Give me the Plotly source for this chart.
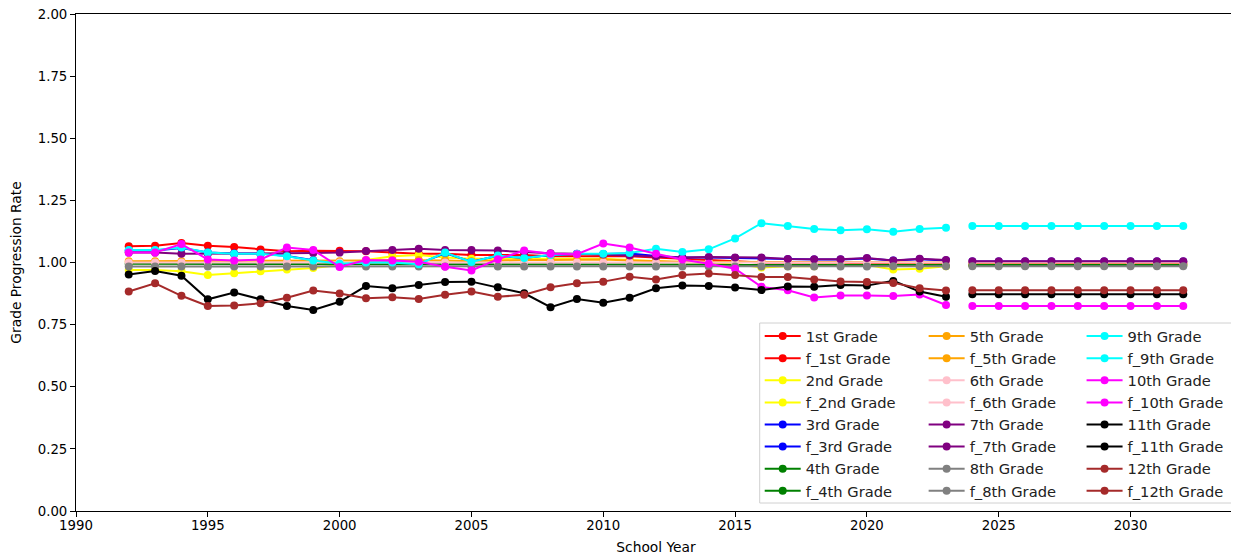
import plotly.graph_objects as go

years = list(range(1992, 2024))
f_years = list(range(2024, 2033))

grades = ["1st Grade", "2nd Grade", "3rd Grade", "4th Grade", "5th Grade", "6th Grade",
          "7th Grade", "8th Grade", "9th Grade", "10th Grade", "11th Grade", "12th Grade"]
colors = ["red", "yellow", "blue", "green", "orange", "pink",
          "purple", "gray", "cyan", "magenta", "black", "brown"]

g1 = [1.065, 1.067, 1.078, 1.067, 1.062, 1.052, 1.045, 1.047, 1.047, 1.045, 1.040, 1.035,
      1.035, 1.030, 1.030, 1.030, 1.025, 1.025, 1.025, 1.025, 1.020, 1.015, 1.010, 1.005,
      1.000, 1.000, 1.000, 1.000, 0.995, 0.995, 0.995, 0.995]
g2 = [0.970, 0.970, 0.965, 0.950, 0.957, 0.965, 0.972, 0.978, 0.990, 1.010, 1.025, 1.030,
      1.020, 1.015, 1.015, 1.015, 1.015, 1.015, 1.015, 1.010, 1.005, 1.000, 1.000, 0.995,
      0.980, 0.985, 0.985, 0.990, 0.990, 0.972, 0.975, 0.985]
g3 = [1.048, 1.048, 1.058, 1.040, 1.036, 1.036, 1.026, 1.009, 0.996, 1.001, 1.001, 0.994,
      1.038, 1.003, 1.027, 1.018, 1.030, 1.034, 1.034, 1.036, 1.026, 1.020, 1.020, 1.018,
      1.018, 1.013, 1.012, 1.012, 1.016, 1.008, 1.013, 1.008]
g4 = [0.995, 0.995, 0.995, 0.995, 0.995, 0.995, 0.995, 0.995, 0.995, 0.995, 0.995, 0.995,
      0.995, 0.995, 0.995, 0.995, 0.995, 0.993, 0.993, 0.993, 0.993, 0.992, 0.992, 0.990,
      0.990, 0.990, 0.990, 0.990, 0.990, 0.990, 0.990, 0.990]
g5 = [1.005, 1.005, 1.005, 1.005, 1.005, 1.005, 1.005, 1.005, 1.005, 1.008, 1.010, 1.010,
      1.008, 1.005, 1.008, 1.010, 1.010, 1.010, 1.012, 1.008, 1.005, 1.003, 1.003, 1.003,
      1.003, 1.003, 1.003, 1.003, 1.003, 1.000, 1.003, 1.000]
g6 = [1.000, 1.000, 1.000, 1.000, 1.000, 1.000, 1.000, 1.000, 1.000, 1.000, 1.000, 1.000,
      1.000, 1.000, 1.000, 1.000, 1.000, 1.000, 1.000, 1.000, 1.000, 1.000, 1.000, 1.000,
      1.000, 1.000, 1.000, 1.000, 1.000, 1.000, 1.000, 1.000]
g7 = [1.040, 1.040, 1.035, 1.035, 1.035, 1.035, 1.035, 1.038, 1.040, 1.046, 1.050, 1.055,
      1.050, 1.050, 1.048, 1.042, 1.037, 1.035, 1.032, 1.028, 1.025, 1.020, 1.022, 1.020,
      1.020, 1.014, 1.013, 1.013, 1.018, 1.008, 1.015, 1.010]
g8 = [0.984, 0.984, 0.984, 0.984, 0.984, 0.984, 0.984, 0.984, 0.984, 0.984, 0.984, 0.984,
      0.984, 0.984, 0.984, 0.984, 0.984, 0.984, 0.984, 0.984, 0.984, 0.984, 0.984, 0.984,
      0.984, 0.984, 0.984, 0.984, 0.984, 0.985, 0.985, 0.985]
g9 = [1.050, 1.050, 1.060, 1.040, 1.035, 1.035, 1.025, 1.008, 0.995, 1.000, 1.000, 0.993,
      1.040, 1.002, 1.028, 1.018, 1.030, 1.035, 1.035, 1.038, 1.055, 1.042, 1.053, 1.097,
      1.158, 1.147, 1.135, 1.130, 1.134, 1.124, 1.135, 1.140]
g10 = [1.040, 1.040, 1.074, 1.012, 1.008, 1.012, 1.060, 1.050, 0.982, 1.010, 1.008, 1.003,
       0.983, 0.968, 1.013, 1.048, 1.035, 1.033, 1.076, 1.060, 1.035, 1.012, 0.995, 0.975,
       0.902, 0.888, 0.859, 0.867, 0.867, 0.865, 0.871, 0.829]
g11 = [0.952, 0.966, 0.947, 0.852, 0.879, 0.852, 0.825, 0.809, 0.842, 0.905, 0.896, 0.909,
       0.922, 0.923, 0.900, 0.876, 0.820, 0.853, 0.838, 0.858, 0.896, 0.907, 0.905, 0.899,
       0.889, 0.903, 0.902, 0.909, 0.907, 0.926, 0.883, 0.862]
g12 = [0.883, 0.916, 0.866, 0.825, 0.827, 0.836, 0.858, 0.887, 0.875, 0.856, 0.860, 0.853,
       0.870, 0.883, 0.862, 0.870, 0.900, 0.916, 0.923, 0.943, 0.932, 0.950, 0.956, 0.950,
       0.942, 0.942, 0.932, 0.924, 0.922, 0.918, 0.896, 0.887]

f1 = [0.995] * 9
f2 = [0.990] * 9
f3 = [1.004] * 9
f4 = [0.990] * 9
f5 = [1.000] * 9
f6 = [1.000] * 9
f7 = [1.005] * 9
f8 = [0.985] * 9
f9 = [1.147] * 9
f10 = [0.825] * 9
f11 = [0.872] * 9
f12 = [0.888] * 9

hist = [g1, g2, g3, g4, g5, g6, g7, g8, g9, g10, g11, g12]
fcst = [f1, f2, f3, f4, f5, f6, f7, f8, f9, f10, f11, f12]

fig = go.Figure()
legend_ids = ["legend", "legend2", "legend3"]
for i, (name, col, h, f) in enumerate(zip(grades, colors, hist, fcst)):
    leg = legend_ids[i // 4]
    fig.add_trace(go.Scatter(x=years, y=h, mode="lines+markers", name=name,
                             line=dict(color=col, width=2), marker=dict(color=col, size=8),
                             legend=leg))
    fig.add_trace(go.Scatter(x=f_years, y=f, mode="lines+markers", name="f_" + name,
                             line=dict(color=col, width=2), marker=dict(color=col, size=8),
                             legend=leg))

# page offset from default body margin
OFF = 8
W, H = 1239 - OFF, 557 - OFF
# plot-area edges in page pixels
PL, PR, PT, PB = 76, 1236.5, 14, 511
L = PL - OFF
R = W - (PR - OFF)
T = PT - OFF
B = H - (PB - OFF)
pw = PR - PL
ph = PB - PT

def px(xp):
    return (xp - PL) / pw

def py(yp):
    return (PB - yp) / ph

legfont = dict(family="DejaVu Sans", size=14.7, color="#222")
common = dict(orientation="v", xanchor="left", yanchor="top", bgcolor="rgba(0,0,0,0)",
              borderwidth=0, font=legfont, tracegroupgap=0, itemwidth=36)

fig.add_shape(type="rect", xref="paper", yref="paper", x0=px(760), x1=px(1233),
              y0=py(503), y1=py(323),
              line=dict(color="#d0d0d0", width=1), fillcolor="rgba(255,255,255,0.8)",
              layer="above")

title_font = dict(family="DejaVu Sans", size=13.8, color="#000")

fig.update_layout(
    width=W, height=H,
    margin=dict(l=L, r=R, t=T, b=B, autoexpand=False),
    paper_bgcolor="white", plot_bgcolor="white",
    font=dict(family="DejaVu Sans", size=13.3, color="#000"),
    showlegend=True,
    legend=dict(x=px(760), y=py(320), **common),
    legend2=dict(x=px(924), y=py(320), **common),
    legend3=dict(x=px(1082), y=py(320), **common),
    xaxis=dict(range=[1990, 2034], tickmode="array", tickvals=list(range(1990, 2031, 5)),
               showgrid=False, zeroline=False, showline=True, linecolor="black", linewidth=1,
               mirror=True, ticks="outside", ticklen=5, tickcolor="black",
               ticklabelstandoff=-3, ticklabeloverflow="allow",
               title=dict(text="School Year", standoff=10, font=title_font), automargin=False),
    yaxis=dict(range=[0, 2], tickmode="array", tickvals=[0, 0.25, 0.5, 0.75, 1.0, 1.25, 1.5, 1.75, 2.0],
               tickformat=".2f", showgrid=False, zeroline=False, showline=True, linecolor="black",
               linewidth=1, mirror=True, ticks="outside", ticklen=5, tickcolor="black",
               ticklabeloverflow="allow",
               title=dict(text="Grade Progression Rate", standoff=12, font=title_font),
               automargin=False),
)

fig.write_html("out.html")
